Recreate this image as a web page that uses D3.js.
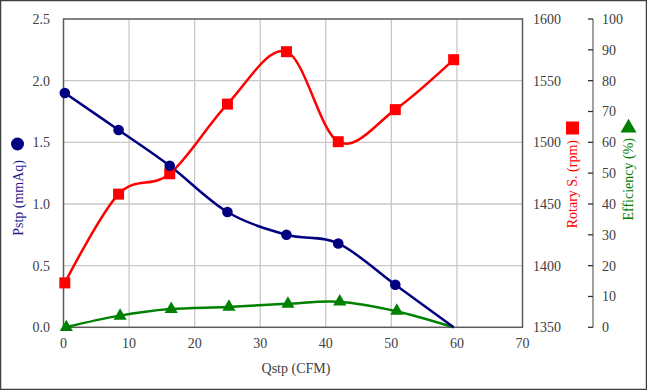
<!DOCTYPE html>
<html><head><meta charset="utf-8">
<script src="https://cdn.jsdelivr.net/npm/d3@7"></script>
<style>body{margin:0;background:#fff}svg{display:block}</style>
</head><body><svg id="c" width="647" height="390" font-family="'Liberation Serif', 'Times New Roman', Times, 'DejaVu Serif', serif"></svg>
<script>
const qstp = [0.2, 8.4, 16.2, 25.0, 34.0, 41.9, 50.6, 59.5];
const pstp = [1.90, 1.60, 1.31, 0.935, 0.75, 0.68, 0.345, 0.0];
const rpm = [1386, 1458, 1474.5, 1531, 1573.5, 1500.5, 1526.5, 1567];
const eff = [0.0, 3.7, 5.9, 6.6, 7.6, 8.3, 5.3, 0.0];
const xTicks = [0,10,20,30,40,50,60,70];
const pTicks = [0.0,0.5,1.0,1.5,2.0,2.5];
const rTicks = [1350,1400,1450,1500,1550,1600];
const eTicks = [0,10,20,30,40,50,60,70,80,90,100];

const svg = d3.select("#c");
const L=63.5, R=522.5, T=19, B=327.3;
const FS = "14px";
const x = d3.scaleLinear().domain([0,70]).range([L,R]);
const yP = d3.scaleLinear().domain([0,2.5]).range([B,T]);
const yR = d3.scaleLinear().domain([1350,1600]).range([B,T]);
const yE = d3.scaleLinear().domain([0,100]).range([B,T]);

svg.append("rect").attr("x",0.5).attr("y",0.5).attr("width",646).attr("height",389)
  .attr("fill","#fff").attr("stroke","#404040").attr("stroke-width",1.5);

const g = svg.append("g");
g.selectAll(".gx").data(xTicks.slice(1,-1)).join("line")
  .attr("x1",d=>x(d)).attr("x2",d=>x(d)).attr("y1",T).attr("y2",B)
  .attr("stroke","#c8c8c8").attr("stroke-width",1.3);
g.selectAll(".gy").data(pTicks.slice(1,-1)).join("line")
  .attr("y1",d=>yP(d)).attr("y2",d=>yP(d)).attr("x1",L).attr("x2",R)
  .attr("stroke","#c8c8c8").attr("stroke-width",1.3);
svg.append("rect").attr("x",L).attr("y",T).attr("width",R-L).attr("height",B-T)
  .attr("fill","none").attr("stroke","#5a5a5a").attr("stroke-width",1.5);

svg.append("g").selectAll("text").data(pTicks).join("text")
  .attr("x",50).attr("y",d=>yP(d)).attr("dy","0.35em").attr("text-anchor","end")
  .attr("fill","#404040").attr("font-size",FS).text(d=>d.toFixed(1));
svg.append("g").selectAll("text").data(xTicks).join("text")
  .attr("x",d=>x(d)).attr("y",348).attr("text-anchor","middle")
  .attr("fill","#404040").attr("font-size",FS).text(d=>d);
svg.append("g").selectAll("text").data(rTicks).join("text")
  .attr("x",533).attr("y",d=>yR(d)).attr("dy","0.35em").attr("text-anchor","start")
  .attr("fill","#404040").attr("font-size",FS).text(d=>d);
const eAx = svg.append("g");
eAx.append("line").attr("x1",593).attr("x2",593).attr("y1",T).attr("y2",B).attr("stroke","#707070").attr("stroke-width",1.3);
eAx.selectAll(".t").data(eTicks).join("line").attr("x1",588).attr("x2",593)
  .attr("y1",d=>yE(d)).attr("y2",d=>yE(d)).attr("stroke","#333").attr("stroke-width",1.3);
eAx.selectAll("text").data(eTicks).join("text")
  .attr("x",602).attr("y",d=>yE(d)).attr("dy","0.35em").attr("fill","#404040").attr("font-size",FS).text(d=>d);

svg.append("text").attr("x",296).attr("y",373).attr("text-anchor","middle")
  .attr("fill","#404040").attr("font-size",FS).text("Qstp (CFM)");
function vtitle(cx, topY, txt, col){
  svg.append("text").attr("transform",`translate(${cx},${topY}) rotate(-90)`)
    .attr("text-anchor","end").attr("dy","0.35em").attr("fill",col).attr("font-size",FS).text(txt);
}
vtitle(18,160,"Pstp (mmAq)","#1a1a8c");
svg.append("circle").attr("cx",17.5).attr("cy",144).attr("r",6.5).attr("fill","#000080");
vtitle(572,140,"Rotary S. (rpm)","#ff0000");
svg.append("rect").attr("x",566).attr("y",121.5).attr("width",13).attr("height",13).attr("fill","#ff0000");
vtitle(628.5,138,"Efficiency (%)","#008000");
svg.append("path").attr("transform","translate(628.5,128)").attr("d",d3.symbol(d3.symbolTriangle,110)()).attr("fill","#008000");

const curve = d3.curveCatmullRom.alpha(0);
const dP = qstp.map((q,i)=>[q,pstp[i]]);
const dR = qstp.map((q,i)=>[q,rpm[i]]);
const dE = qstp.map((q,i)=>[q,eff[i]]);

svg.append("path").datum(dE).attr("fill","none").attr("stroke","#008000").attr("stroke-width",2.5)
  .attr("d",d3.line().x(d=>x(d[0])).y(d=>yE(d[1])).curve(curve));
svg.append("path").datum(dR).attr("fill","none").attr("stroke","#ff0000").attr("stroke-width",2.5)
  .attr("d",d3.line().x(d=>x(d[0])).y(d=>yR(d[1])).curve(curve));
svg.append("path").datum(dP).attr("fill","none").attr("stroke","#000080").attr("stroke-width",2.5)
  .attr("d",d3.line().x(d=>x(d[0])).y(d=>yP(d[1])).curve(curve));

svg.append("g").selectAll("path").data(dE.slice(0,-1)).join("path")
  .attr("transform",d=>`translate(${x(d[0])+1.5},${yE(d[1])})`)
  .attr("d",d3.symbol(d3.symbolTriangle,75)()).attr("fill","#008000");
svg.append("g").selectAll("rect").data(dR).join("rect")
  .attr("x",d=>x(d[0])-5.5).attr("y",d=>yR(d[1])-5.5).attr("width",11).attr("height",11).attr("fill","#ff0000");
svg.append("g").selectAll("circle").data(dP.slice(0,-1)).join("circle")
  .attr("cx",d=>x(d[0])).attr("cy",d=>yP(d[1])).attr("r",5.3).attr("fill","#000080");
</script></body></html>
